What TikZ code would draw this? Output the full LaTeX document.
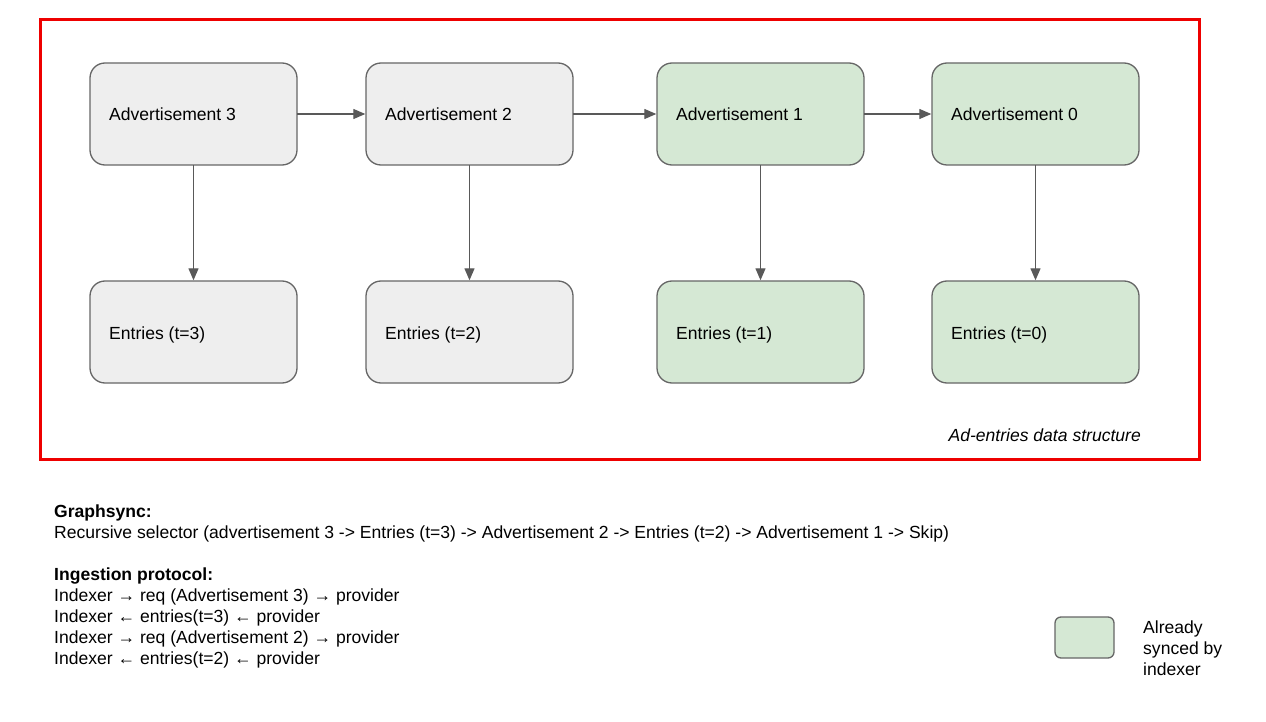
\documentclass[tikz,border=0pt]{standalone}
\usepackage{fontspec}
\setmainfont{Liberation Sans}
\usetikzlibrary{arrows.meta}
\definecolor{greyfill}{HTML}{EEEEEE}
\definecolor{greenfill}{HTML}{D5E8D4}
\definecolor{edge}{HTML}{666666}
\definecolor{arrowc}{HTML}{595959}
\definecolor{frame}{HTML}{EE0000}
\tikzset{
  box/.style={draw=edge, line width=1.3pt, rounded corners=15pt},
  greybox/.style={box, fill=greyfill},
  greenbox/.style={box, fill=greenfill},
  lbl/.style={anchor=base west, inner sep=0pt, font=\fontsize{17.55}{21}\selectfont},
  conn/.style={draw=arrowc, line width=1.3pt, -{Triangle[length=12pt,width=10pt]}, shorten >=0.5pt},
}
\begin{document}
\begin{tikzpicture}[x=1pt, y=-1pt]
\useasboundingbox (0,0) rectangle (1266,722);
% frame
\draw[frame, line width=3pt] (40,20) rectangle (1199,459);
% node anchors for connectors
\path (90,63) rectangle (297,165) node[midway, inner sep=0, minimum width=207pt, minimum height=102pt] (a3) {};
\path (366,63) rectangle (573,165) node[midway, inner sep=0, minimum width=207pt, minimum height=102pt] (a2) {};
\path (657,63) rectangle (864,165) node[midway, inner sep=0, minimum width=207pt, minimum height=102pt] (a1) {};
\path (932,63) rectangle (1139,165) node[midway, inner sep=0, minimum width=207pt, minimum height=102pt] (a0) {};
\path (90,281) rectangle (297,383) node[midway, inner sep=0, minimum width=207pt, minimum height=102pt] (e3) {};
\path (366,281) rectangle (573,383) node[midway, inner sep=0, minimum width=207pt, minimum height=102pt] (e2) {};
\path (657,281) rectangle (864,383) node[midway, inner sep=0, minimum width=207pt, minimum height=102pt] (e1) {};
\path (932,281) rectangle (1139,383) node[midway, inner sep=0, minimum width=207pt, minimum height=102pt] (e0) {};
% boxes
\draw[greybox] (90,63) rectangle (297,165);
\draw[greybox] (366,63) rectangle (573,165);
\draw[greenbox] (657,63) rectangle (864,165);
\draw[greenbox] (932,63) rectangle (1139,165);
\draw[greybox] (90,281) rectangle (297,383);
\draw[greybox] (366,281) rectangle (573,383);
\draw[greenbox] (657,281) rectangle (864,383);
\draw[greenbox] (932,281) rectangle (1139,383);
% labels
\node[lbl] (ta3) at (109,120.5) {Advertisement 3};
\node[lbl] (ta2) at (385,120.5) {Advertisement 2};
\node[lbl] (ta1) at (676,120.5) {Advertisement 1};
\node[lbl] (ta0) at (951,120.5) {Advertisement 0};
\node[lbl] (te3) at (109,339.5) {Entries (t=3)};
\node[lbl] (te2) at (385,339.5) {Entries (t=2)};
\node[lbl] (te1) at (676,339.5) {Entries (t=1)};
\node[lbl] (te0) at (951,339.5) {Entries (t=0)};
% connectors
\draw[conn] (a3.east) -- (a2.west);
\draw[conn] (a2.east) -- (a1.west);
\draw[conn] (a1.east) -- (a0.west);
\draw[conn] (a3.south) -- (e3.north);
\draw[conn] (a2.south) -- (e2.north);
\draw[conn] (a1.south) -- (e1.north);
\draw[conn] (a0.south) -- (e0.north);
% frame caption
\node[lbl, anchor=base east, font=\fontsize{17.55}{21}\selectfont\itshape] (cap) at (1141,441) {Ad-entries data structure};
% bottom text
\node[lbl, font=\fontsize{17.55}{21}\selectfont\bfseries] (g1) at (54,517.5) {Graphsync:};
\node[lbl] (g2) at (54,538.5) {Recursive selector (advertisement 3 -> Entries (t=3) -> Advertisement 2 -> Entries (t=2) -> Advertisement 1 -> Skip)};
\node[lbl, font=\fontsize{17.55}{21}\selectfont\bfseries] (i1) at (54,580.5) {Ingestion protocol:};
\node[lbl] (i2) at (54,601.5) {Indexer → req (Advertisement 3) → provider};
\node[lbl] (i3) at (54,622.5) {Indexer ← entries(t=3) ← provider};
\node[lbl] (i4) at (54,643.5) {Indexer → req (Advertisement 2) → provider};
\node[lbl] (i5) at (54,664.5) {Indexer ← entries(t=2) ← provider};
% legend
\draw[greenbox, rounded corners=6pt] (1055,617) rectangle (1114,658);
\node[lbl] (l1) at (1143,633.5) {Already};
\node[lbl] (l2) at (1143,654.5) {synced by};
\node[lbl] (l3) at (1143,675.5) {indexer};
\end{tikzpicture}
\end{document}
